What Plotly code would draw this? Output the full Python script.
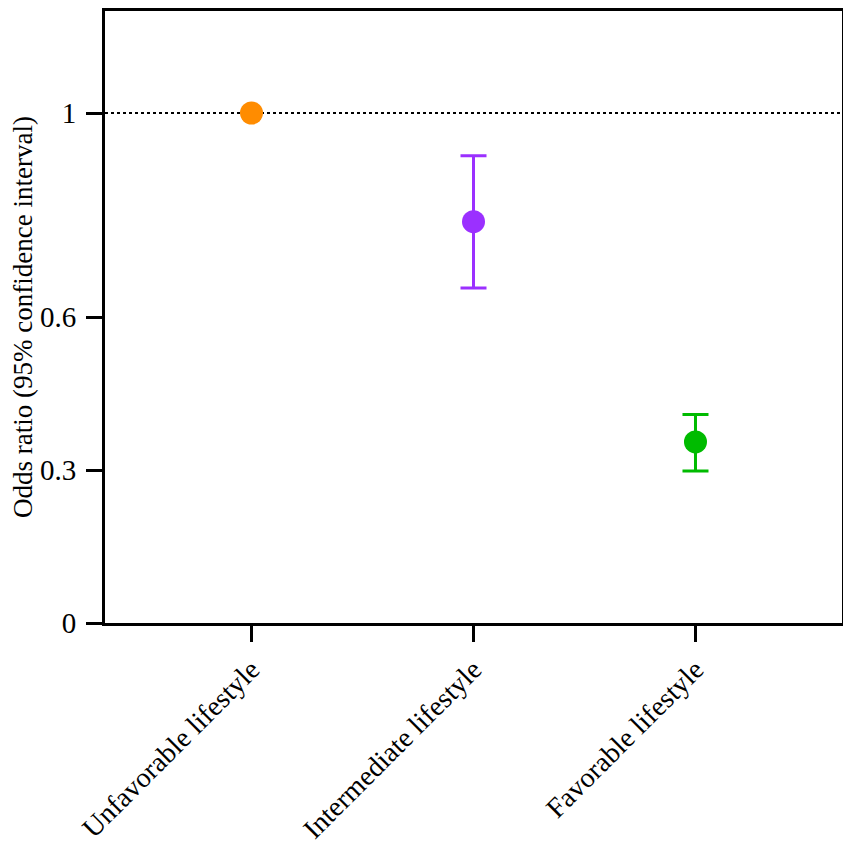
import plotly.graph_objects as go

categories = ["Unfavorable lifestyle", "Intermediate lifestyle", "Favorable lifestyle"]
odds_ratio = [1.0, 0.787, 0.355]
ci_upper = [1.0, 0.916, 0.409]
ci_lower = [1.0, 0.657, 0.298]
colors = ["#FF8C00", "#9B30FF", "#00BB00"]
y_ticks = [0, 0.3, 0.6, 1]
y_tick_labels = ["0", "0.3", "0.6", "1"]

FONT = "Times New Roman, Liberation Serif, Times, serif"

fig = go.Figure()
for i, c in enumerate(categories):
    has_ci = ci_upper[i] != ci_lower[i]
    fig.add_trace(go.Scatter(
        x=[i], y=[odds_ratio[i]], mode="markers",
        marker=dict(size=23, color=colors[i]),
        error_y=dict(type="data", symmetric=False,
                     array=[ci_upper[i] - odds_ratio[i]],
                     arrayminus=[odds_ratio[i] - ci_lower[i]],
                     color=colors[i], thickness=3, width=13, visible=has_ci),
        showlegend=False,
    ))

fig.add_shape(type="line", xref="paper", x0=0, x1=1, yref="y", y0=1, y1=1,
              line=dict(color="black", width=2, dash="dot"), layer="below")

fig.update_layout(
    width=843, height=839,
    margin=dict(l=97, r=9, t=0, b=224),
    plot_bgcolor="white", paper_bgcolor="white",
    font=dict(family=FONT, color="black"),
    xaxis=dict(range=[-0.66, 2.66], tickmode="array", tickvals=[0, 1, 2], ticktext=categories,
               tickangle=-45, tickfont=dict(family=FONT, size=28), showline=True, linecolor="black", linewidth=3,
               mirror=True, ticks="outside", ticklen=16, tickwidth=3, tickcolor="black",
               showgrid=False, zeroline=False),
    yaxis=dict(range=[0, 1.2], tickmode="array", tickvals=y_ticks, ticktext=y_tick_labels,
               tickfont=dict(family=FONT, size=29), showline=True, linecolor="black", linewidth=3,
               mirror=True, ticks="outside", ticklen=16, tickwidth=3, tickcolor="black",
               ticklabelstandoff=4, showgrid=False, zeroline=False,
               title=dict(text="Odds ratio (95% confidence interval)", font=dict(family=FONT, size=27), standoff=6)),
)

fig.write_html("out.html")
